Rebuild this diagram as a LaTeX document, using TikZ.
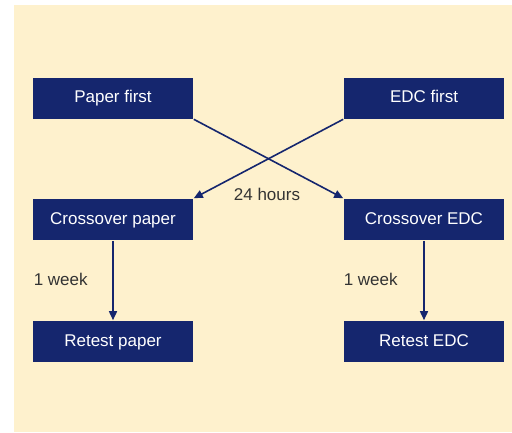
\documentclass[tikz,border=0pt]{standalone}
\usepackage{fontspec}
\setmainfont{Liberation Sans}
\usepackage{tikz}
\usetikzlibrary{arrows.meta}
\definecolor{navy}{RGB}{21,38,110}
\definecolor{cream}{RGB}{254,241,205}
\definecolor{labelgray}{RGB}{51,51,51}
\tikzset{
    flow/.style={
        x=1pt, y=-1pt,
        stagebox/.style={fill=navy, text=white, minimum width=160pt, minimum height=41pt,
            inner sep=0pt, text height=12.5pt, text depth=3.5pt, font=\fontsize{17}{20}\selectfont},
        gap/.style={text=labelgray, inner sep=0pt, font=\fontsize{17}{20}\selectfont},
        every path/.style={-{Triangle[length=9pt, width=8pt]}, line width=1.6pt, draw=navy},
    },
}
\begin{document}
\begin{tikzpicture}[flow]
            \useasboundingbox[draw=none] (0,0) rectangle (512,432);
            \fill[cream, draw=none, -] (14,5) rectangle (512,432);

            \node[stagebox] (pfirst) at (113,98)    {Paper first};
            \node[stagebox] (efirst) at (424,98)    {EDC first};
            \node[stagebox] (pcross) at (113,219.5) {Crossover paper};
            \node[stagebox] (ecross) at (424,219.5) {Crossover EDC};
            \node[stagebox] (pretest) at (113,341.5) {Retest paper};
            \node[stagebox] (eretest) at (424,341.5) {Retest EDC};

            \node[gap] (hours) at (267,194) {24 hours};
            \node[gap, anchor=west] (pweek) at (33,279)  {1 week};
            \node[gap, anchor=west] (eweek) at (343,279) {1 week};

            \draw (pfirst.south east) -- (ecross.north west);
            \draw (efirst.south west) -- (pcross.north east);
            \draw (pcross) -- (pretest);
            \draw (ecross) -- (eretest);
        \end{tikzpicture}
\end{document}
